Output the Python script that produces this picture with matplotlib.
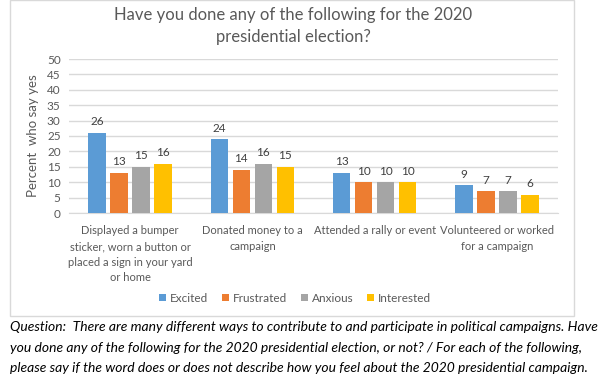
import matplotlib
matplotlib.use("Agg")
import matplotlib.pyplot as plt
import numpy as np
from matplotlib.patches import Rectangle

plt.rcParams["font.family"] = ["Lato", "DejaVu Sans"]

categories = [
    "Displayed a bumper\nsticker, worn a button or\nplaced a sign in your yard\nor home",
    "Donated money to a\ncampaign",
    "Attended a rally or event",
    "Volunteered or worked\nfor a campaign",
]
series = ["Excited", "Frustrated", "Anxious", "Interested"]
excited = [26, 24, 13, 9]
frustrated = [13, 14, 10, 7]
anxious = [15, 16, 10, 7]
interested = [16, 15, 10, 6]
yticks = list(range(0, 55, 5))

colors = ["#5B9BD5", "#ED7D31", "#A5A5A5", "#FFC000"]
title = "Have you done any of the following for the 2020\npresidential election?"
footer = [
    "Question:  There are many different ways to contribute to and participate in political campaigns. Have",
    "you done any of the following for the 2020 presidential election, or not? / For each of the following,",
    "please say if the word does or does not describe how you feel about the 2020 presidential campaign.",
]

W, H = 612, 374
fig = plt.figure(figsize=(W / 100, H / 100), dpi=100)

# chart box (Excel style frame)
fig.patches.append(Rectangle((10 / W, 1 - 316 / H), 564 / W, 316 / H,
                             transform=fig.transFigure, fill=False,
                             edgecolor="#d9d9d9", linewidth=1.0))

ax = fig.add_axes([69 / W, 161 / H, 489 / W, 154 / H])
x = np.arange(len(categories))
bw = 0.145
step = 0.18
for i, (name, vals) in enumerate(zip(series, [excited, frustrated, anxious, interested])):
    bars = ax.bar(x + (i - 1.5) * step, vals, bw, color=colors[i], label=name, zorder=3)
    ax.bar_label(bars, padding=4, fontsize=8.5, color="#404040")

ax.set_xlim(-0.5, len(categories) - 0.5)
ax.set_ylim(0, 50)
ax.set_yticks(yticks)
ax.yaxis.grid(True, color="#d9d9d9", linewidth=1.0, zorder=0)
ax.set_axisbelow(True)
for s in ["top", "right", "left"]:
    ax.spines[s].set_visible(False)
ax.spines["bottom"].set_color("#d9d9d9")
ax.tick_params(axis="both", length=0, colors="#595959", labelsize=8.5)
ax.tick_params(axis="y", pad=6)
ax.set_xticks(x)
ax.set_xticklabels(categories, linespacing=1.5, va="top", fontsize=8)
ax.tick_params(axis="x", pad=9)
ax.set_ylabel("Percent  who say yes", fontsize=9.5, color="#595959", labelpad=6)

fig.text(293 / W, 1 - 26 / H, title, ha="center", va="center", fontsize=12,
         color="#595959", linespacing=1.45)

handles, labels = ax.get_legend_handles_labels()
fig.legend(handles, labels, loc="center", bbox_to_anchor=(295 / W, 1 - 298 / H),
           ncol=4, frameon=False, fontsize=8.5, handlelength=0.6, handleheight=0.6,
           handletextpad=0.3, columnspacing=1.2, labelcolor="#595959")

for k, line in enumerate(footer):
    fig.text(10 / W, 1 - (327 + 20.5 * k) / H, line, ha="left", va="center",
             fontsize=10, style="italic", color="black")

fig.savefig("out.png", dpi=100)
